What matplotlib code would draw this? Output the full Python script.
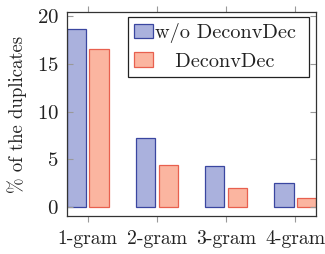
import numpy as np
import matplotlib
matplotlib.use("Agg")
import matplotlib.pyplot as plt
from matplotlib.patches import Rectangle
from matplotlib.legend_handler import HandlerBase

## data ##
categories = ["1-gram", "2-gram", "3-gram", "4-gram"]
wo_deconv = [18.65, 7.2, 4.3, 2.5]   # w/o DeconvDec
deconv = [16.55, 4.4, 2.0, 0.97]     # DeconvDec
yticks = [0, 5, 10, 15, 20]

plt.rcParams["font.family"] = ["cmr10", "DejaVu Serif"]
plt.rcParams["axes.formatter.use_mathtext"] = True
plt.rcParams["font.size"] = 15
plt.rcParams["text.color"] = "#222222"
plt.rcParams["xtick.labelcolor"] = "#222222"
plt.rcParams["ytick.labelcolor"] = "#222222"
plt.rcParams["axes.labelcolor"] = "#222222"

blue_fc, blue_ec = "#aab1dd", "#3a46a0"
red_fc, red_ec = "#fbb5a0", "#e8604f"


class TwoBars(HandlerBase):
    # pgfplots style legend: two little bars
    def create_artists(self, legend, orig, xd, yd, w, h, fs, trans):
        fc = orig.get_facecolor()
        ec = orig.get_edgecolor()
        bw = w * 0.3
        hh = h * 1.2
        y0 = yd + (h - hh) / 2
        r1 = Rectangle((xd, y0), bw, hh, fc=fc, ec=ec, lw=0.9, transform=trans)
        r2 = Rectangle((xd + w - bw, y0), bw, hh, fc=fc, ec=ec, lw=0.9, transform=trans)
        return [r1, r2]


fig = plt.figure(figsize=(3.25, 2.54), dpi=100)
ax = fig.add_axes([67 / 325, 1 - 216 / 254, (316 - 67) / 325, (216 - 12) / 254])

x = np.arange(len(categories))
w = 0.28
b1 = ax.bar(x - 0.165, wo_deconv, w, color=blue_fc, edgecolor=blue_ec, lw=0.9, label="w/o DeconvDec ")
b2 = ax.bar(x + 0.165, deconv, w, color=red_fc, edgecolor=red_ec, lw=0.9, label="   DeconvDec")

ax.set_xlim(-0.30, 3.30)
ax.set_ylim(-0.9, 20.4)
ax.set_xticks(x)
ax.set_xticklabels(categories, fontsize=14.2)
ax.set_yticks(yticks)
ax.set_ylabel("% of the duplicates", fontsize=13.5, labelpad=7)

ax.tick_params(axis="x", direction="out", length=4, color="#999999", top=True, pad=6)
ax.tick_params(axis="y", direction="in", length=4, color="#999999", right=True, pad=6)
for s in ax.spines.values():
    s.set_color("#333333")
    s.set_linewidth(0.9)

leg = ax.legend(handles=[b1, b2], handler_map={type(b1[0]): TwoBars()},
                loc="upper right", bbox_to_anchor=(0.972, 0.975),
                fontsize=14.6, fancybox=False, edgecolor="#222222", framealpha=1,
                handlelength=0.95, handletextpad=0.12, borderpad=0.3,
                labelspacing=0.45, borderaxespad=0)
leg.get_frame().set_linewidth(0.9)

fig.savefig("out.png", dpi=100)
